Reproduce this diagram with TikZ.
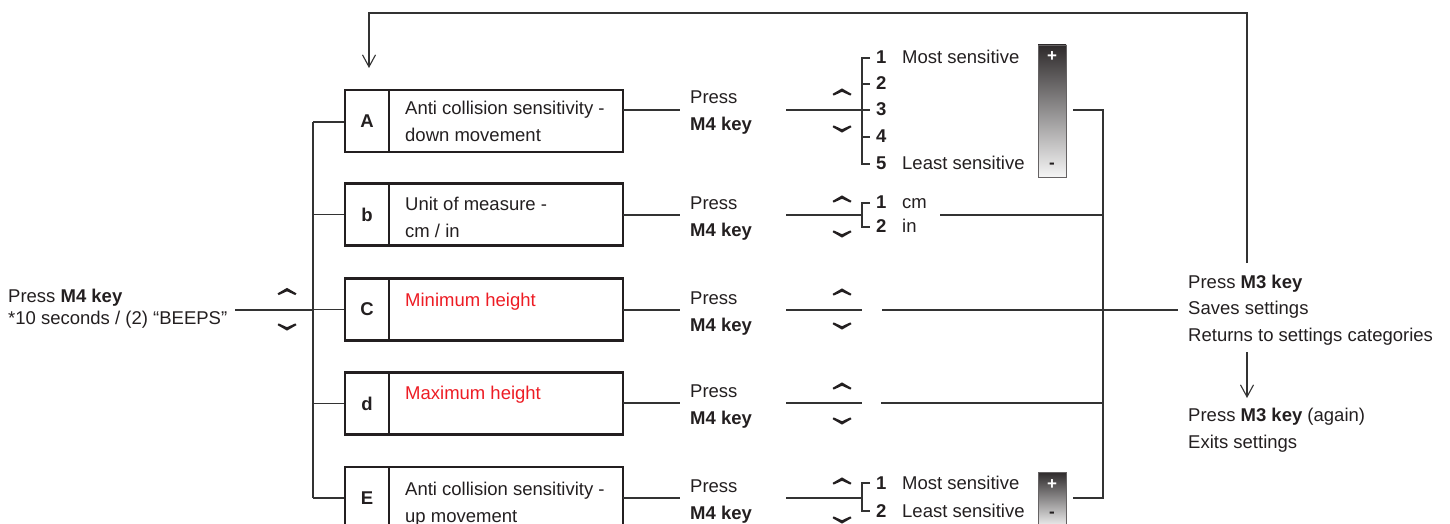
\documentclass[tikz,border=0pt]{standalone}
\usepackage{fontspec}
\setmainfont{Liberation Sans}
\usetikzlibrary{arrows.meta,shadings}
\definecolor{ink}{HTML}{231F20}
\definecolor{lin}{HTML}{333333}
\definecolor{redtxt}{HTML}{ED1C24}
\begin{document}
\begin{tikzpicture}[x=1pt,y=-1pt,
  font=\fontsize{18.5}{27}\selectfont,
  txt/.style={anchor=base west, inner sep=0, text=ink},
  num/.style={anchor=base west, inner sep=0, text=ink, font=\fontsize{18.5}{27}\selectfont\bfseries},
  lbox/.style={draw=ink, line width=2.2pt, inner sep=0, minimum width=44, minimum height=62, text=ink, font=\fontsize{18.5}{27}\selectfont\bfseries},
  tbox/.style={draw=ink, line width=2.2pt, inner sep=0, minimum width=234, minimum height=62},
  conn/.style={draw=lin, line width=1.1pt},
  bar/.style={draw=ink!70, line width=0.8pt, inner sep=0, minimum width=28, top color=ink!95, bottom color=white!96!black},
  barb/.style={-{Straight Barb[length=12pt,width=13pt]}},
  chevup/.pic={\fill[ink, line join=round] (-9.5,1.9) -- (0,-3.6) -- (9.5,1.9) -- (8.3,3.6) -- (0,-0.2) -- (-8.3,3.6) -- cycle;},
  chevdn/.pic={\fill[ink, line join=round] (-9.5,-1.9) -- (0,3.6) -- (9.5,-1.9) -- (8.3,-3.6) -- (0,0.2) -- (-8.3,-3.6) -- cycle;}
]
\useasboundingbox (0,0) rectangle (1450,524);
\clip (0,0) rectangle (1450,524);

% ---------------- left input ----------------
\node[txt] (start1) at (8,302) {Press \textbf{M4 key}};
\node[txt] (start2) at (8,324) {*10 seconds / (2) “BEEPS”};
\coordinate (inL) at (235,310);
\coordinate (busTop) at (313,122);
\coordinate (busBot) at (313,498);
\pic at (287,291.5) {chevup};
\pic at (287,327) {chevdn};

% ---------------- boxes ----------------
\node[lbox] (lA) at (367,121) {A};
\node[tbox] (tA) at (506,121) {};
\node[lbox] (lB) at (367,214.5) {b};
\node[tbox] (tB) at (506,214.5) {};
\node[lbox] (lC) at (367,309.5) {C};
\node[tbox] (tC) at (506,309.5) {};
\node[lbox] (lD) at (367,403.5) {d};
\node[tbox] (tD) at (506,403.5) {};
\node[lbox] (lE) at (367,498) {E};
\node[tbox] (tE) at (506,498) {};

\node[txt] (xA1) at (405,114) {Anti collision sensitivity -};
\node[txt] (xA2) at (405,142) {down movement};
\node[txt] (xB1) at (405,210) {Unit of measure -};
\node[txt] (xB2) at (405,237) {cm / in};
\node[txt, text=redtxt] (xC1) at (405,306) {Minimum height};
\node[txt, text=redtxt] (xD1) at (405,399) {Maximum height};
\node[txt] (xE1) at (405,495) {Anti collision sensitivity -};
\node[txt] (xE2) at (405,522) {up movement};

% left bus
\draw[conn] (inL) -- (inL -| busTop);
\draw[conn] (busTop) -- (busBot);
\draw[conn] (busTop) -- (busTop -| lA.west);
\draw[conn] (lB.west -| busTop) -- (lB.west);
\draw[conn] (lC.west -| busTop) -- (lC.west);
\draw[conn] (lD.west -| busTop) -- (lD.west);
\draw[conn] (busBot) -- (busBot -| lE.west);

% ---------------- Press M4 key columns ----------------
\foreach \r/\y in {A/110,B/215,C/310,D/403,E/498}{
  \draw[conn] (623,\y) -- (680,\y);
  \node[txt] (p\r) at (690,\y-6) {Press};
  \node[txt] (k\r) at (690,\y+21) {\textbf{M4 key}};
  \draw[conn] (786,\y) -- (862,\y);
}
\pic at (842,92) {chevup};   \pic at (842,129) {chevdn};
\pic at (842,199) {chevup};  \pic at (842,234) {chevdn};
\pic at (842,292) {chevup};  \pic at (842,326) {chevdn};
\pic at (842,386) {chevup};  \pic at (842,421) {chevdn};
\pic at (842,481) {chevup};  \pic at (842,520) {chevdn};

% ---------------- bracket A ----------------
\draw[conn] (870,58) -- (862,58) -- (862,164) -- (870,164);
\foreach \t in {84,110,137}{\draw[conn] (862,\t) -- (870,\t);}
\node[num] (nA1) at (876,63.5) {1};
\node[num] (nA2) at (876,89.5) {2};
\node[num] (nA3) at (876,115.5) {3};
\node[num] (nA4) at (876,142.5) {4};
\node[num] (nA5) at (876,169.5) {5};
\node[txt] (mostA) at (902,63.5) {Most sensitive};
\node[txt] (leastA) at (902,169.5) {Least sensitive};
\node[bar, minimum height=132] (barA) at (1052,111) {};
\node[text=white, font=\fontsize{17}{20}\selectfont\bfseries, inner sep=0] (plusA) at (1052,57) {+};
\node[text=ink, font=\fontsize{17}{20}\selectfont\bfseries, inner sep=0] (minusA) at (1052,166) {-};

% ---------------- bracket b ----------------
\draw[conn] (870,203) -- (862,203) -- (862,227) -- (870,227);
\node[num] (nB1) at (876,208.5) {1};
\node[num] (nB2) at (876,232.5) {2};
\node[txt] (cm) at (902,208.5) {cm};
\node[txt] (in) at (902,232.5) {in};

% ---------------- bracket E ----------------
\draw[conn] (870,483) -- (862,483) -- (862,511) -- (870,511);
\node[num] (nE1) at (876,489) {1};
\node[num] (nE2) at (876,517) {2};
\node[txt] (mostE) at (902,489) {Most sensitive};
\node[txt] (leastE) at (902,517) {Least sensitive};
\node[bar, minimum height=56] (barE) at (1052,500) {};
\node[text=white, font=\fontsize{17}{20}\selectfont\bfseries, inner sep=0] (plusE) at (1052,485) {+};
\node[text=ink, font=\fontsize{17}{20}\selectfont\bfseries, inner sep=0] (minusE) at (1052,515) {-};

% ---------------- right bus ----------------
\coordinate (rTop) at (1103,110);
\coordinate (rBot) at (1103,498);
\draw[conn] (1073,110) -- (rTop) -- (rBot) -- (1073,498);
\draw[conn] (940,215) -- (1103,215);
\draw[conn] (881,403) -- (1103,403);

% ---------------- right texts ----------------
\node[txt] (m3) at (1188,288) {Press \textbf{M3 key}};
\node[txt] (saves) at (1188,314) {Saves settings};
\node[txt] (returns) at (1188,341) {Returns to settings categories};
\node[txt] (m3b) at (1188,421) {Press \textbf{M3 key} (again)};
\node[txt] (exits) at (1188,448) {Exits settings};
\draw[conn] (882,310) -- (1178,310);

\coordinate (loopS) at (1247,263);
\coordinate (loopE) at (369,68);
\draw[conn, barb] (loopS) -- (1247,13) -- (369,13) -- (loopE);
\coordinate (dnS) at (1247,352);
\coordinate (dnE) at (1247,398);
\draw[conn, barb] (dnS) -- (dnE);
\end{tikzpicture}
\end{document}
